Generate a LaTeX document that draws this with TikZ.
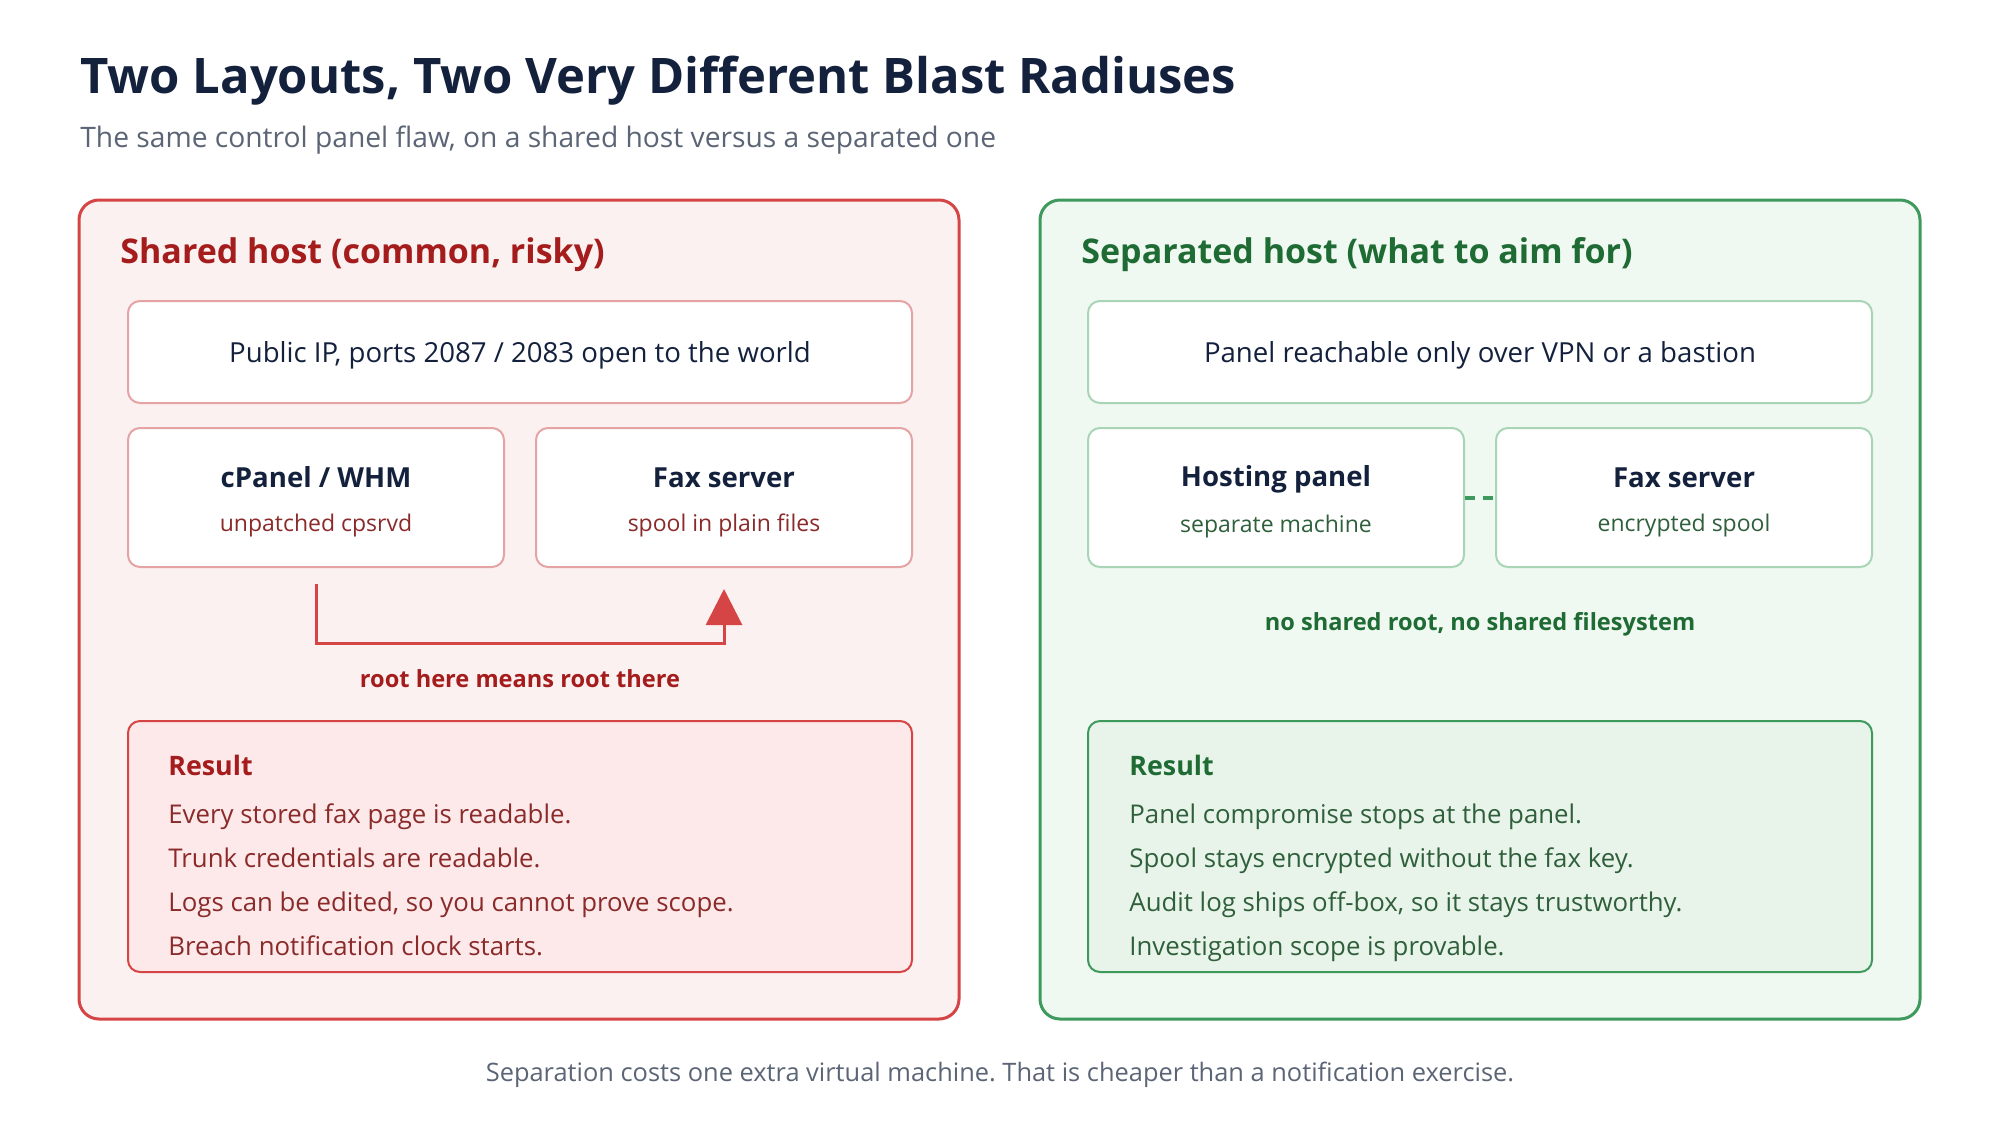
\documentclass[tikz,border=0pt]{standalone}
\usepackage{fontspec}
\setmainfont{Open Sans}
\usetikzlibrary{arrows.meta,positioning,calc}
\definecolor{inknavy}{HTML}{14213D}
\definecolor{inkgray}{HTML}{5B6576}
\definecolor{riskred}{HTML}{D64545}
\definecolor{riskdark}{HTML}{A51C1C}
\definecolor{riskpale}{HTML}{FCF1F1}
\definecolor{riskfill}{HTML}{FDE9E9}
\definecolor{riskline}{HTML}{E6A3A3}
\definecolor{riskbody}{HTML}{8A2A2A}
\definecolor{safegreen}{HTML}{3D9A5C}
\definecolor{safedark}{HTML}{1E6B34}
\definecolor{safepale}{HTML}{EFF8F1}
\definecolor{safefill}{HTML}{E8F4EA}
\definecolor{safeline}{HTML}{A8D5B5}
\definecolor{safebody}{HTML}{2F5F3B}
\frenchspacing

\begin{document}
\begin{tikzpicture}[
        x=0.5pt, y=-0.5pt,
        panel/.style={
          draw,
          line width=1.5pt,
          rounded corners=10pt,
          minimum width=440pt,
          minimum height=409.5pt
        },
        paneltitle/.style={
          anchor=base west,
          inner sep=0pt,
          font=\fontsize{17}{20}\selectfont\bfseries
        },
        plainbox/.style={
          draw,
          fill=white,
          line width=1pt,
          rounded corners=6pt,
          minimum width=392pt,
          minimum height=51pt,
          text depth=0pt,
          font=\fontsize{13.8}{16}\selectfont,
          text=inknavy
        },
        hostbox/.style={
          draw,
          fill=white,
          line width=1pt,
          rounded corners=6pt,
          minimum width=188pt,
          minimum height=69.5pt,
          align=center,
          text=inknavy
        },
        resultbox/.style={
          draw,
          line width=1pt,
          rounded corners=6pt,
          minimum width=392pt,
          minimum height=125.5pt
        },
        resulttext/.style={
          anchor=north west,
          inner sep=0pt,
          align=left,
          font=\fontsize{12.9}{22}\selectfont
        },
        note/.style={
          font=\fontsize{11.8}{14}\selectfont\bfseries
        },
        rootarrow/.style={
          -{Triangle[length=18pt,width=18pt]},
          line width=1.5pt,
          riskred
        },
        splitline/.style={
          line width=2pt,
          safegreen,
          dash pattern=on 5pt off 4pt
        }
      ]

      \useasboundingbox[fill=white] (0,0) rectangle (2000,1120);

      % heading
      \node[anchor=base west, inner sep=0pt, text=inknavy,
        font=\fontsize{24.5}{28}\selectfont\bfseries] (title) at (80,93) {
        Two Layouts, Two Very Different Blast Radiuses
      };
      \node[anchor=base west, inner sep=0pt, text=inkgray,
        font=\fontsize{14.1}{17}\selectfont] (subtitle) at (80,147) {
        The same control panel flaw, on a shared host versus a separated one
      };

      % shared host
      \node[panel, draw=riskred, fill=riskpale] (shared) at (519,609.5) {};
      \node[paneltitle, text=riskdark] (sharedtitle) at (120,263) {
        Shared host (common, risky)
      };

      \node[plainbox, draw=riskline] (sharedip) at (520,352) {
        Public IP, ports 2087 / 2083 open to the world
      };

      \node[hostbox, draw=riskline, below right=11.5pt and 0pt of sharedip.south west] (cpanel) {
        \rule{0pt}{15pt}{\fontsize{13.8}{17}\selectfont\bfseries cPanel / WHM}\\[10pt]
        {\fontsize{11.5}{14}\selectfont\color{riskbody}unpatched cpsrvd}
      };

      \node[hostbox, draw=riskline, right=15pt of cpanel] (sharedfax) {
        \rule{0pt}{15pt}{\fontsize{13.8}{17}\selectfont\bfseries Fax server}\\[10pt]
        {\fontsize{11.5}{14}\selectfont\color{riskbody}spool in plain files}
      };

      \draw[rootarrow] ([yshift=-8pt]cpanel.south) -- ++(0,-29.5pt)
        -| ([yshift=-10.5pt]sharedfax.south);

      \node[note, text=riskdark] (rootnote) at (520,679) {
        root here means root there
      };

      \node[resultbox, draw=riskred, fill=riskfill] (sharedresult) at (520,846.5) {};
      \node[resulttext, text=riskbody] (sharedlist) at (168,755) {
        {\bfseries\color{riskdark}\fontsize{13.4}{16}\selectfont Result}\\[2pt]
        Every stored fax page is readable.\\
        Trunk credentials are readable.\\
        Logs can be edited, so you cannot prove scope.\\
        Breach notification clock starts.
      };

      % separated host
      \node[panel, draw=safegreen, fill=safepale] (separated) at (1480,609.5) {};
      \node[paneltitle, text=safedark] (separatedtitle) at (1081,263) {
        Separated host (what to aim for)
      };

      \node[plainbox, draw=safeline] (vpn) at (1480,352) {
        Panel reachable only over VPN or a bastion
      };

      \node[hostbox, draw=safeline, below right=11.5pt and 0pt of vpn.south west] (hosting) {
        \rule{0pt}{15pt}{\fontsize{13.8}{17}\selectfont\bfseries Hosting panel}\\[10pt]
        {\fontsize{11.5}{14}\selectfont\color{safebody}separate machine}
      };

      \node[hostbox, draw=safeline, right=15pt of hosting] (separatedfax) {
        \rule{0pt}{15pt}{\fontsize{13.8}{17}\selectfont\bfseries Fax server}\\[10pt]
        {\fontsize{11.5}{14}\selectfont\color{safebody}encrypted spool}
      };

      \draw[splitline] (hosting.east) -- (separatedfax.west);

      \node[note, text=safedark] (sharednote) at (1480,624) {
        no shared root, no shared filesystem
      };

      \node[resultbox, draw=safegreen, fill=safefill] (separatedresult) at (1480,846.5) {};
      \node[resulttext, text=safebody] (separatedlist) at (1129,755) {
        {\bfseries\color{safedark}\fontsize{13.4}{16}\selectfont Result}\\[2pt]
        Panel compromise stops at the panel.\\
        Spool stays encrypted without the fax key.\\
        Audit log ships off-box, so it stays trustworthy.\\
        Investigation scope is provable.
      };

      % footer
      \node[text=inkgray, font=\fontsize{12.7}{15}\selectfont] (footer) at (1000,1075) {
        Separation costs one extra virtual machine. That is cheaper than a notification exercise.
      };

      \end{tikzpicture}
\end{document}
